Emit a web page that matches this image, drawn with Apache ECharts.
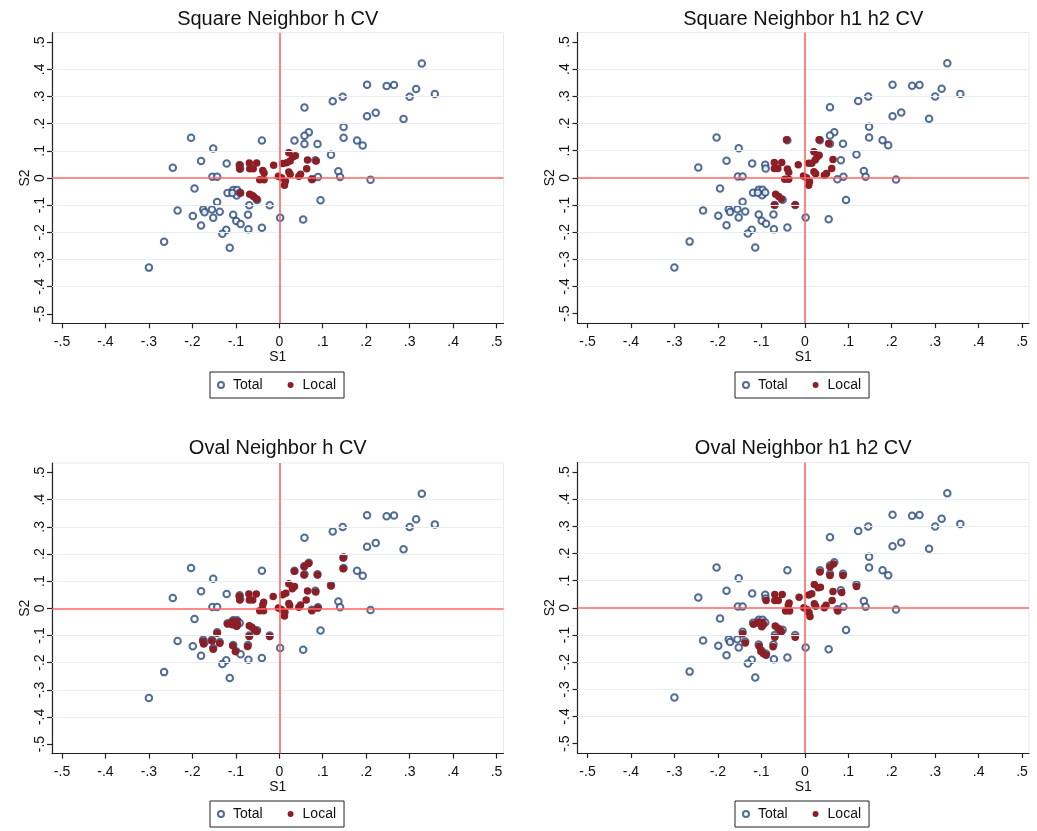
<!DOCTYPE html>
<html>
<head>
<meta charset="utf-8">
<script src="https://cdn.jsdelivr.net/npm/echarts@6/dist/echarts.min.js"></script>
<style>html,body{margin:0;padding:0;background:#fff;}#c{width:1037px;height:831px;}</style>
</head>
<body>
<div id="c"></div>
<script>
// ---- Data ----
const panelTitles = ['Square Neighbor h CV', 'Square Neighbor h1 h2 CV', 'Oval Neighbor h CV', 'Oval Neighbor h1 h2 CV'];
const tickValues = [-0.5, -0.4, -0.3, -0.2, -0.1, 0, 0.1, 0.2, 0.3, 0.4, 0.5];
const tickLabels = ['-.5', '-.4', '-.3', '-.2', '-.1', '0', '.1', '.2', '.3', '.4', '.5'];
const gridValues = [-0.4, -0.3, -0.2, -0.1, 0.1, 0.2, 0.3, 0.4];
const seriesNames = ['Total', 'Local'];

// Total: same in every panel, [S1, S2]
const totalPoints = [
  [0.328,0.422],[0.202,0.343],[0.247,0.339],[0.264,0.342],[0.315,0.328],[0.300,0.299],[0.358,0.309],
  [0.123,0.283],[0.146,0.299],[0.058,0.260],[0.202,0.227],[0.222,0.240],[0.286,0.217],[0.148,0.188],
  [0.148,0.148],[0.179,0.138],[0.192,0.120],[0.068,0.168],[0.058,0.156],[0.035,0.138],[0.058,0.125],
  [0.088,0.125],[0.119,0.086],[0.136,0.025],[0.140,0.004],[0.210,-0.006],[0.089,0.004],[0.095,-0.082],
  [0.055,-0.153],[0.002,-0.146],[-0.040,0.138],[-0.203,0.148],[-0.152,0.109],[-0.180,0.063],[-0.245,0.038],
  [-0.121,0.053],[-0.154,0.005],[-0.143,0.005],[-0.195,-0.039],[-0.119,-0.055],[-0.106,-0.044],[-0.097,-0.044],
  [-0.098,-0.064],[-0.143,-0.088],[-0.234,-0.120],[-0.199,-0.140],[-0.175,-0.116],[-0.172,-0.126],[-0.155,-0.116],
  [-0.137,-0.124],[-0.152,-0.146],[-0.180,-0.175],[-0.106,-0.135],[-0.099,-0.158],[-0.089,-0.169],[-0.072,-0.135],
  [-0.069,-0.100],[-0.051,-0.081],[-0.022,-0.100],[-0.071,-0.189],[-0.040,-0.183],[-0.122,-0.191],[-0.131,-0.205],
  [-0.114,-0.257],[-0.265,-0.235],[-0.300,-0.330],[-0.091,0.048],[-0.090,0.034],[0.083,0.065],[0.075,-0.005],
  [-0.108,-0.055],[-0.091,-0.054]
];

const localSquareH = [
  [-0.091,0.047],[-0.091,0.034],[-0.069,0.055],[-0.052,0.055],[-0.068,0.034],[-0.060,0.034],[-0.038,0.028],
  [-0.035,0.018],[-0.045,-0.006],[-0.035,-0.006],[-0.013,0.047],[-0.002,0.006],[0.005,0.001],[0.012,-0.027],
  [0.014,-0.012],[0.008,0.053],[0.017,0.056],[0.022,0.093],[0.031,0.077],[0.037,0.082],[0.025,0.063],
  [0.022,0.022],[0.025,0.014],[0.045,0.006],[0.049,0.014],[0.065,0.066],[0.063,0.034],[0.085,0.063],
  [0.076,-0.005],[-0.089,-0.055],[-0.068,-0.060],[-0.062,-0.064],[-0.058,-0.070],[-0.052,-0.077]
];

const localSquareH1H2 = [
  [-0.042,0.140],[0.033,0.140],[0.055,0.126],[0.021,0.096],[0.033,0.083],[0.028,0.076],[0.024,0.066],
  [0.016,0.054],[0.009,0.054],[0.065,0.067],[0.062,0.034],[0.021,0.022],[0.025,0.015],[0.045,0.009],
  [0.050,0.016],[-0.015,0.048],[-0.070,0.056],[-0.053,0.056],[-0.070,0.034],[-0.062,0.034],[-0.040,0.032],
  [-0.037,0.020],[-0.046,-0.005],[-0.037,-0.005],[-0.003,0.007],[0.004,0.000],[0.011,-0.015],[0.009,-0.027],
  [-0.067,-0.061],[-0.060,-0.069],[-0.054,-0.078],[-0.070,-0.100],[-0.022,-0.100]
];

const localOvalH = [
  [0.147,0.185],[0.147,0.146],[0.119,0.082],[0.067,0.165],[0.057,0.153],[0.035,0.136],[0.057,0.123],
  [0.088,0.123],[0.022,0.090],[0.030,0.072],[0.035,0.080],[0.015,0.055],[0.008,0.050],[0.065,0.064],
  [0.084,0.060],[0.062,0.031],[0.022,0.018],[0.024,0.010],[0.045,0.004],[0.049,0.012],[0.075,-0.009],
  [0.089,0.001],[-0.014,0.043],[-0.002,0.001],[0.005,-0.004],[0.012,-0.028],[0.013,-0.015],[-0.036,0.022],
  [-0.038,0.012],[-0.045,-0.009],[-0.036,-0.009],[-0.070,0.053],[-0.053,0.053],[-0.069,0.031],[-0.061,0.031],
  [-0.092,0.044],[-0.091,0.031],[-0.119,-0.058],[-0.108,-0.048],[-0.098,-0.048],[-0.096,-0.058],[-0.098,-0.066],
  [-0.108,-0.061],[-0.069,-0.064],[-0.063,-0.070],[-0.057,-0.080],[-0.052,-0.085],[-0.069,-0.104],[-0.022,-0.104],
  [-0.143,-0.092],[-0.176,-0.121],[-0.174,-0.131],[-0.155,-0.120],[-0.137,-0.129],[-0.152,-0.151],[-0.107,-0.138],
  [-0.101,-0.159],[-0.073,-0.141]
];

const localOvalH1H2 = [
  [0.066,0.161],[0.058,0.150],[0.035,0.132],[0.058,0.119],[0.088,0.119],[0.119,0.078],[0.022,0.086],
  [0.031,0.074],[0.036,0.076],[0.016,0.052],[0.009,0.047],[0.065,0.060],[0.085,0.056],[0.063,0.027],
  [0.022,0.015],[0.025,0.006],[0.045,0.000],[0.049,0.009],[0.076,-0.012],[-0.013,0.039],[-0.002,0.000],
  [0.006,-0.007],[0.012,-0.032],[0.010,-0.018],[-0.036,0.018],[-0.038,0.009],[-0.044,-0.012],[-0.035,-0.012],
  [-0.069,0.049],[-0.052,0.049],[-0.069,0.027],[-0.061,0.027],[-0.089,0.027],[-0.118,-0.061],[-0.107,-0.053],
  [-0.098,-0.053],[-0.095,-0.061],[-0.099,-0.070],[-0.068,-0.067],[-0.062,-0.074],[-0.056,-0.083],[-0.054,-0.088],
  [-0.069,-0.108],[-0.022,-0.108],[-0.143,-0.096],[-0.137,-0.130],[-0.105,-0.142],[-0.101,-0.161],[-0.095,-0.169],
  [-0.089,-0.175],[-0.073,-0.143]
];

const localSets = [localSquareH, localSquareH1H2, localOvalH, localOvalH1H2];

// ---- Layout / style ----
const FONT = 'Liberation Sans, Arial, sans-serif';
const NAVY = '#25497a';
const MAROON = '#8c1f26';
const REF = '#ff6464';
const panels = [
  {left: 52, top: 32.7, titleTop: 9, legendLeft: 210, legendTop: 372},
  {left: 577.5, top: 32.5, titleTop: 9, legendLeft: 735, legendTop: 372},
  {left: 52, top: 463, titleTop: 438, legendLeft: 210, legendTop: 801},
  {left: 577.5, top: 462.5, titleTop: 438, legendLeft: 735, legendTop: 801}
];
const W = 451.5, H = 290.6;

function fmt(v) {
  for (let i = 0; i < tickValues.length; i++) if (Math.abs(tickValues[i] - v) < 1e-9) return tickLabels[i];
  return '';
}

const option = {
  backgroundColor: '#fff',
  animation: false,
  textStyle: {fontFamily: FONT},
  title: [], grid: [], xAxis: [], yAxis: [], legend: [], series: []
};

panels.forEach((p, i) => {
  option.title.push({
    text: panelTitles[i], left: p.left + W / 2, top: p.titleTop, textAlign: 'center', padding: 0,
    textStyle: {fontFamily: FONT, fontSize: 20, fontWeight: 'normal', color: '#111'}
  });
  option.grid.push({
    left: p.left, top: p.top, width: W, height: H, show: true,
    borderColor: '#e4ecee', borderWidth: 1, backgroundColor: '#fff'
  });
  option.xAxis.push({
    gridIndex: i, type: 'value', min: -0.523, max: 0.516,
    name: 'S1', nameLocation: 'middle', nameGap: 26,
    nameTextStyle: {fontFamily: FONT, fontSize: 14, color: '#111'},
    axisLine: {show: true, onZero: false, lineStyle: {color: '#222', width: 1.2}},
    axisTick: {show: true, customValues: tickValues, length: 5, lineStyle: {color: '#222', width: 1.2}},
    axisLabel: {customValues: tickValues, formatter: fmt, margin: 12, fontFamily: FONT, fontSize: 14, color: '#111'},
    splitLine: {show: false}
  });
  option.yAxis.push({
    gridIndex: i, type: 'value', min: -0.535, max: 0.535,
    name: 'S2', nameLocation: 'middle', nameGap: 20, nameRotate: 90,
    nameTextStyle: {fontFamily: FONT, fontSize: 14, color: '#111'},
    axisLine: {show: true, onZero: false, lineStyle: {color: '#222', width: 1.2}},
    axisTick: {show: true, customValues: tickValues, length: 5, lineStyle: {color: '#222', width: 1.2}},
    axisLabel: {customValues: tickValues, formatter: fmt, margin: 5, rotate: 90, fontFamily: FONT, fontSize: 14, color: '#111'},
    splitLine: {show: false}
  });
  option.legend.push({
    left: p.legendLeft, top: p.legendTop, orient: 'horizontal',
    padding: [5, 8, 5, 7], itemGap: 25, itemWidth: 6, itemHeight: 6,
    borderColor: '#222', borderWidth: 1, backgroundColor: '#fff',
    data: [{name: seriesNames[0], icon: 'emptyCircle'}, {name: seriesNames[1], icon: 'circle'}],
    textStyle: {fontFamily: FONT, fontSize: 14, color: '#111', padding: [0, 0, 0, 4], lineHeight: 16},
    selectedMode: false
  });
  // background lines: gridlines + reference lines
  option.series.push({
    type: 'scatter', name: 'bg' + i, xAxisIndex: i, yAxisIndex: i, data: [], z: 1, silent: true,
    markLine: {
      silent: true, symbol: ['none', 'none'], label: {show: false}, animation: false,
      data: gridValues.map(v => ({yAxis: v, lineStyle: {color: '#e6eef0', width: 1, type: 'solid'}}))
        .concat([
          {xAxis: 0, lineStyle: {color: REF, width: 1.6, type: 'solid'}},
          {yAxis: 0, lineStyle: {color: REF, width: 1.6, type: 'solid'}}
        ])
    }
  });
  option.series.push({
    type: 'scatter', name: seriesNames[0], xAxisIndex: i, yAxisIndex: i, z: 3,
    symbol: 'emptyCircle', symbolSize: 6.5,
    itemStyle: {color: NAVY, borderColor: NAVY, borderWidth: 1.1},
    data: totalPoints
  });
  option.series.push({
    type: 'scatter', name: seriesNames[1], xAxisIndex: i, yAxisIndex: i, z: 4,
    symbol: 'circle', symbolSize: 7.5,
    itemStyle: {color: MAROON, opacity: 1},
    data: localSets[i]
  });
});

const chart = echarts.init(document.getElementById('c'), null, {renderer: 'canvas'});
chart.setOption(option);
</script>
</body>
</html>
